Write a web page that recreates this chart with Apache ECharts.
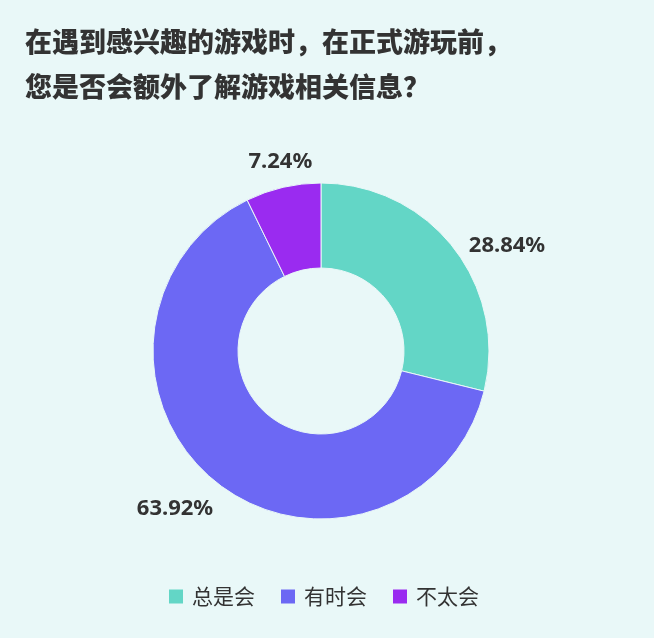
<!DOCTYPE html>
<html>
<head>
<meta charset="utf-8">
<script src="https://cdn.jsdelivr.net/npm/echarts@6/dist/echarts.min.js"></script>
<style>
html,body{margin:0;padding:0;background:#E9F8F8;}
#chart{width:654px;height:638px;}
</style>
</head>
<body>
<div id="chart"></div>
<script>
const titleText = '在遇到感兴趣的游戏时，在正式游玩前，\n您是否会额外了解游戏相关信息？';
const categories = ['总是会', '有时会', '不太会'];
const values = [28.84, 63.92, 7.24];
const colors = ['#63D6C6', '#6C68F4', '#9A2BF0'];
const labelLines = [
  { length: 2, length2: 9 },
  { length: 34, length2: -24 },
  { length: 26, length2: -40 }
];

const FONT = "'Noto Sans CJK SC', 'Noto Sans', sans-serif";
const NUMFONT = "'Noto Sans', 'Noto Sans CJK SC', sans-serif";
const chart = echarts.init(document.getElementById('chart'), null, { renderer: 'canvas' });

chart.setOption({
  backgroundColor: '#E9F8F8',
  animation: false,
  title: {
    text: titleText,
    left: 20,
    top: 17,
    textStyle: {
      fontFamily: NUMFONT,
      fontSize: 27,
      fontWeight: 900,
      color: '#333333',
      lineHeight: 45
    }
  },
  legend: {
    bottom: 26,
    left: 162,
    itemWidth: 16,
    itemHeight: 16,
    itemGap: 24,
    icon: 'rect',
    textStyle: {
      fontFamily: FONT,
      fontSize: 21,
      color: '#333333',
      padding: [0, 0, 0, 3]
    },
    data: categories
  },
  series: [{
    type: 'pie',
    center: [321, 351],
    radius: [83, 168],
    startAngle: 90,
    clockwise: true,
    avoidLabelOverlap: false,
    itemStyle: { borderColor: '#E9F8F8', borderWidth: 1 },
    label: {
      show: true,
      position: 'outside',
      formatter: function (p) { return p.value.toFixed(2) + '%'; },
      fontFamily: NUMFONT,
      fontSize: 22,
      fontWeight: 'bold',
      color: '#333333'
    },
    labelLine: { show: false },
    emphasis: { disabled: true },
    data: categories.map(function (c, i) {
      return {
        name: c,
        value: values[i],
        itemStyle: { color: colors[i] },
        labelLine: { show: false, length: labelLines[i].length, length2: labelLines[i].length2 }
      };
    })
  }]
});
</script>
</body>
</html>
